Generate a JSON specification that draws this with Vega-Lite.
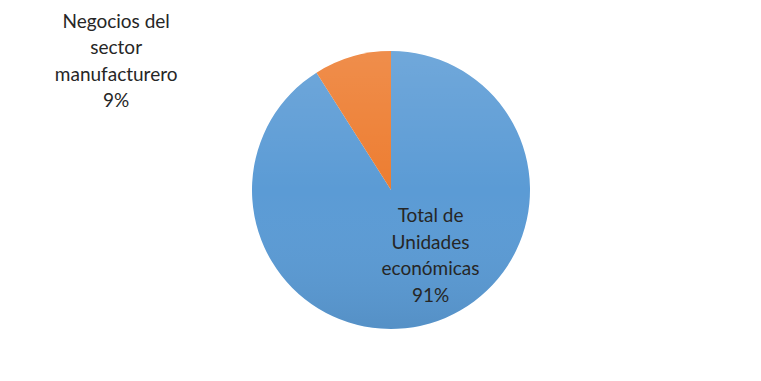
{
  "$schema": "https://vega.github.io/schema/vega-lite/v6.json",
  "width": 740,
  "height": 380,
  "padding": {"left": 21, "top": 0, "right": 0, "bottom": 1},
  "autosize": {"type": "none"},
  "background": "white",
  "config": {"view": {"stroke": null}, "text": {"font": "Lato"}},
  "data": {
    "values": [
      {"categoria": "Total de Unidades económicas", "orden": 1, "valor": 91, "etiqueta": "Total de\nUnidades\neconómicas\n91%"},
      {"categoria": "Negocios del sector manufacturero", "orden": 2, "valor": 9, "etiqueta": "Negocios del\nsector\nmanufacturero\n9%"}
    ]
  },
  "layer": [
    {
      "mark": {"type": "arc", "outerRadius": 139},
      "encoding": {
        "theta": {"field": "valor", "type": "quantitative", "stack": true},
        "order": {"field": "orden", "type": "quantitative"},
        "color": {
          "field": "categoria",
          "type": "nominal",
          "scale": {"domain": ["Total de Unidades económicas", "Negocios del sector manufacturero"], "range": ["#5b9bd5", "#ed7d31"]},
          "legend": null
        }
      }
    },
    {
      "mark": {
        "type": "arc",
        "outerRadius": 139,
        "fill": {
          "gradient": "linear",
          "x1": 0, "y1": 0, "x2": 0, "y2": 1,
          "stops": [
            {"offset": 0, "color": "rgba(255,255,255,0.13)"},
            {"offset": 0.5, "color": "rgba(255,255,255,0)"},
            {"offset": 1, "color": "rgba(0,0,0,0.07)"}
          ]
        }
      },
      "encoding": {
        "theta": {"aggregate": "sum", "field": "valor", "type": "quantitative"}
      }
    },
    {
      "mark": {"type": "text", "radius": 70, "dx": 20, "dy": -41, "fontSize": 19, "lineHeight": 26.5, "lineBreak": "\n", "color": "#262626", "align": "center", "baseline": "middle"},
      "encoding": {
        "theta": {"field": "valor", "type": "quantitative", "stack": true},
        "order": {"field": "orden", "type": "quantitative"},
        "text": {"condition": {"test": "datum.orden == 1", "field": "etiqueta", "type": "nominal"}, "value": ""}
      }
    },
    {
      "mark": {"type": "text", "radius": 150, "dx": -233, "dy": -24, "fontSize": 19, "lineHeight": 26.5, "lineBreak": "\n", "color": "#262626", "align": "center", "baseline": "middle"},
      "encoding": {
        "theta": {"field": "valor", "type": "quantitative", "stack": true},
        "order": {"field": "orden", "type": "quantitative"},
        "text": {"condition": {"test": "datum.orden == 2", "field": "etiqueta", "type": "nominal"}, "value": ""}
      }
    }
  ]
}
